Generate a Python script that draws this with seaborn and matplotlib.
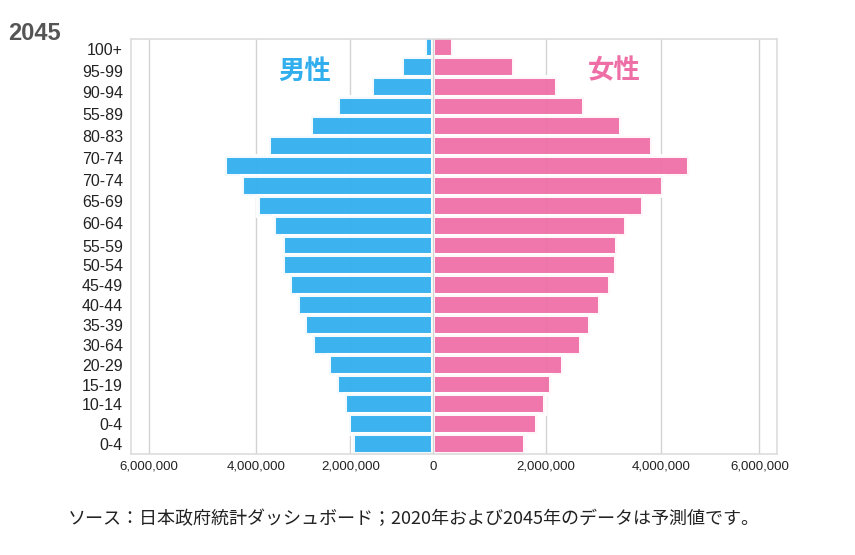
import numpy as np
import pandas as pd
import seaborn as sns
from matplotlib import pyplot as plt

# age group labels as printed on the chart (20 labels, 21 bars)
age_labels = ['100+', '95-99', '90-94', '55-89', '80-83', '70-74', '70-74', '65-69',
              '60-64', '55-59', '50-54', '45-49', '40-44', '35-39', '30-64', '20-29',
              '15-19', '10-14', '0-4', '0-4']

# population per bar, top to bottom
men = [200000, 750000, 1475000, 2255000, 2836000, 3730000, 4589000, 4261000, 3964000,
       3623000, 3432000, 3432000, 3283000, 3113000, 2970000, 2794000, 2460000, 2283000,
       2119000, 2034000, 1935000]
women = [360000, 1432000, 2190000, 2657000, 3298000, 3844000, 4559000, 4029000, 3689000,
         3394000, 3228000, 3221000, 3107000, 2934000, 2772000, 2611000, 2299000, 2087000,
         1982000, 1840000, 1633000]

x_ticks = [-6000000, -4000000, -2000000, 0, 2000000, 4000000, 6000000]

blue = '#30aeee'
pink = '#ee6fa6'

# the axis of the original is not linear: piecewise mapping value -> pixel
scale_vals = [-8000000, -6000000, -4000000, -2000000, 0, 2000000, 4000000, 6000000, 8000000]
scale_pix = [41.7, 149.0, 256.3, 350.3, 433.0, 545.7, 661.3, 759.3, 857.3]


def fwd(v):
    return np.interp(v, scale_vals, scale_pix)


def inv(p):
    return np.interp(p, scale_pix, scale_vals)


sns.set_style('white')
plt.rcParams['font.family'] = ['Liberation Sans', 'Noto Sans CJK JP']

df = pd.DataFrame({'row': np.arange(len(men)),
                   'men': -np.array(men),
                   'women': np.array(women)})

fig = plt.figure(figsize=(8.55, 5.55), dpi=100)
ax = fig.add_axes([131.3 / 855, 1 - 454 / 555, (777.3 - 131.3) / 855, (454 - 39) / 555])

ax.set_axisbelow(True)
ax.grid(axis='x', color='#d2d2d2', linewidth=1)
ax.grid(axis='y', visible=False)

sns.barplot(data=df, x='men', y='row', orient='h', color=blue, saturation=1, alpha=0.94,
            width=1, edgecolor='white', linewidth=2.9, errorbar=None, ax=ax)
sns.barplot(data=df, x='women', y='row', orient='h', color=pink, saturation=1, alpha=0.94,
            width=1, edgecolor='white', linewidth=2.9, errorbar=None, ax=ax)
ax.axvline(0, color='#d2d2d2', linewidth=1, zorder=5)

ax.set_xscale('function', functions=(fwd, inv))
ax.set_xlim(-6330000, 6367000)
ax.set_ylim(20.5, -0.4)

ax.set_xticks(x_ticks)
ax.set_xticklabels([f'{abs(v):,}' for v in x_ticks], fontsize=9.5, color='#222222')
ytick_pos = np.r_[np.linspace(0.1, 8.87, 9), np.arange(10, 21)]
ax.set_yticks(ytick_pos)
ax.set_yticklabels(age_labels, fontsize=11.5, color='#222222')
ax.tick_params(axis='both', length=0)
ax.tick_params(axis='y', pad=6)
ax.tick_params(axis='x', pad=5)
ax.set_xlabel('')
ax.set_ylabel('')

for sp in ax.spines.values():
    sp.set_color('#dddddd')
    sp.set_linewidth(1.2)

fig.text(8 / 855, 1 - 33 / 555, '2045', fontsize=17, fontweight='bold',
         color='#555555', ha='left', va='center')
fig.text(305 / 855, 1 - 71 / 555, '男性', fontsize=19, fontweight='bold',
         color=blue, ha='center', va='center', family=['Noto Sans CJK JP'])
fig.text(614 / 855, 1 - 71 / 555, '女性', fontsize=19, fontweight='bold',
         color=pink, ha='center', va='center', family=['Noto Sans CJK JP'])
fig.text(68 / 855, 1 - 519 / 555,
         'ソース：日本政府統計ダッシュボード；2020年および2045年のデータは予測値です。',
         fontsize=13, color='#222222', ha='left', va='center',
         family=['Noto Sans CJK JP'])

fig.savefig('out.png', dpi=100, facecolor='white')
